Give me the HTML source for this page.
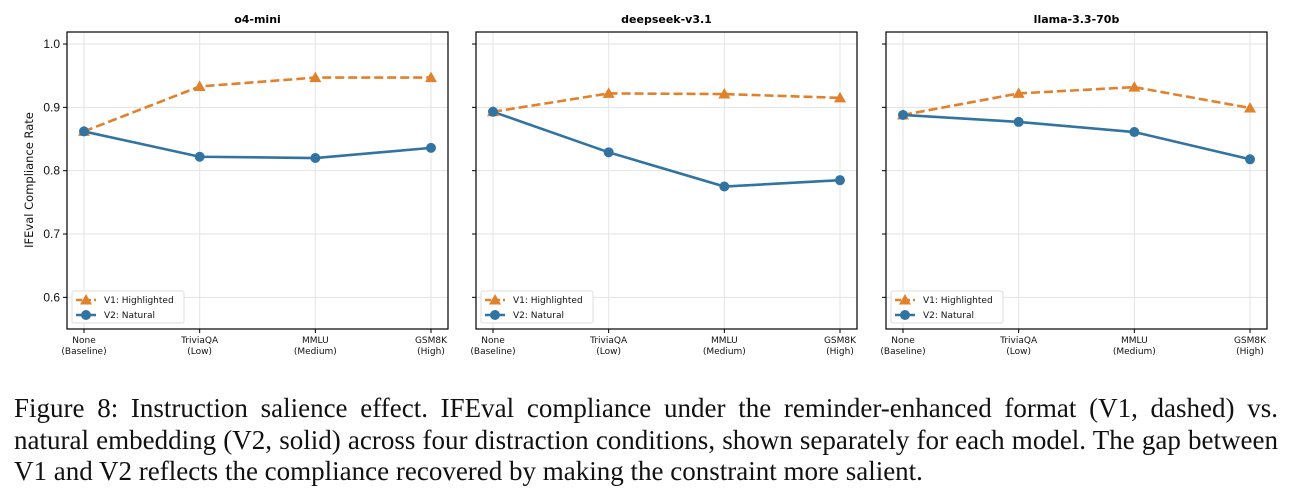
<!DOCTYPE html>
<html><head><meta charset="utf-8">
<style>
body{margin:0;background:#fff;width:1294px;height:497px;overflow:hidden;}
#chart{position:absolute;left:0;top:0;}
.cap{position:absolute;left:14px;width:1264px;font-family:"Liberation Serif",serif;font-size:27px;line-height:32px;color:#111;white-space:nowrap;}
.j{text-align:justify;text-align-last:justify;}
</style></head>
<body>
<svg id="chart" width="1294" height="380" xmlns="http://www.w3.org/2000/svg"></svg>
<div class="cap j" style="top:392px;">Figure 8: Instruction salience effect. IFEval compliance under the reminder-enhanced format (V1, dashed) vs.</div>
<div class="cap j" style="top:424px;">natural embedding (V2, solid) across four distraction conditions, shown separately for each model. The gap between</div>
<div class="cap" style="top:455px;">V1 and V2 reflects the compliance recovered by making the constraint more salient.</div>
<script>
const categories = [["None","(Baseline)"],["TriviaQA","(Low)"],["MMLU","(Medium)"],["GSM8K","(High)"]];
const yTicks = [0.6,0.7,0.8,0.9,1.0];
const yTickLabels = ["0.6","0.7","0.8","0.9","1.0"];
const models = ["o4-mini","deepseek-v3.1","llama-3.3-70b"];
const v1o4 = [0.862,0.933,0.947,0.947];
const v2o4 = [0.862,0.822,0.820,0.836];
const v1ds = [0.893,0.922,0.921,0.915];
const v2ds = [0.893,0.829,0.775,0.785];
const v1ll = [0.888,0.922,0.932,0.899];
const v2ll = [0.888,0.877,0.861,0.818];
const v1Series = [v1o4,v1ds,v1ll];
const v2Series = [v2o4,v2ds,v2ll];

const svg = document.getElementById('chart');
const NS = 'http://www.w3.org/2000/svg';
const YMIN = 0.55, YMAX = 1.019;
const top0 = 32, bot0 = 329;
const lefts = [67,476,886];
const W = 381;
const orange = '#e1812c', blue = '#3274a1';
function mk(tag, attrs, parent){const e=document.createElementNS(NS,tag);for(const k in attrs)e.setAttribute(k,attrs[k]);(parent||svg).appendChild(e);return e;}
function yScale(v){return bot0-(v-YMIN)/(YMAX-YMIN)*(bot0-top0);}
function xScale(i,L){const x0=L+17, x1=L+W-17;return x0+i*(x1-x0)/(categories.length-1);}

models.forEach((m,p)=>{
  const L=lefts[p];
  const g=mk('g',{});
  
  
  yTicks.forEach((t,k)=>{
    const y=yScale(t);
    const gl=mk('line',{x1:L,x2:L+W,y1:y,y2:y,stroke:'#e3e3e3','stroke-width':1},g);
    
    
    mk('line',{x1:L-4,x2:L,y1:y,y2:y,stroke:'#000','stroke-width':1},g);
    if(p===0){
      const tl=mk('text',{x:L-7,y:y+4,'text-anchor':'end','font-family':'Liberation Sans, DejaVu Sans, sans-serif','font-size':'12',fill:'#111'},g);
      tl.textContent=yTickLabels[k];
      
      
    }
  });
  categories.forEach((c,i)=>{
    const x=xScale(i,L);
    mk('line',{x1:x,x2:x,y1:top0,y2:bot0,stroke:'#e3e3e3','stroke-width':1},g);
    mk('line',{x1:x,x2:x,y1:bot0,y2:bot0+4,stroke:'#000','stroke-width':1},g);
    c.forEach((s,r)=>{
      const t=mk('text',{x:x,y:bot0+14+r*11,'text-anchor':'middle','font-family':'DejaVu Sans, Liberation Sans, sans-serif','font-size':'9',fill:'#111'},g);
      t.textContent=s;
      
      
    });
  });
  const v1=v1Series[p], v2=v2Series[p];
  const pts1=v1.map((v,i)=>xScale(i,L)+','+yScale(v)).join(' ');
  const pts2=v2.map((v,i)=>xScale(i,L)+','+yScale(v)).join(' ');
  const l1=mk('polyline',{points:pts1,fill:'none',stroke:orange,'stroke-width':2.6,'stroke-dasharray':'9,4'},g);
  
  
  const l2=mk('polyline',{points:pts2,fill:'none',stroke:blue,'stroke-width':2.6},g);
  
  
  v1.forEach((v,i)=>{
    const x=xScale(i,L),y=yScale(v);
    const tr=mk('polygon',{points:`${x},${y-6} ${x-6},${y+4.5} ${x+6},${y+4.5}`,fill:orange},g);
    
    
  });
  v2.forEach((v,i)=>{
    const c=mk('circle',{cx:xScale(i,L),cy:yScale(v),r:5,fill:blue},g);
    
    
  });
  mk('rect',{x:L,y:top0,width:W,height:bot0-top0,fill:'none',stroke:'#000','stroke-width':1.2},g);
  const tt=mk('text',{x:L+W/2,y:23,'text-anchor':'middle','font-family':'DejaVu Sans, Liberation Sans, sans-serif','font-size':'11','font-weight':'bold',fill:'#000'},g);
  tt.textContent=m;
  
  
  const lg=mk('g',{},g);
  
  
  mk('rect',{x:L+5,y:291,width:112,height:32,fill:'#fff',stroke:'#ddd','stroke-width':1,rx:2},lg);
  mk('line',{x1:L+9,x2:L+29,y1:300,y2:300,stroke:orange,'stroke-width':2.6,'stroke-dasharray':'6,3'},lg);
  mk('polygon',{points:`${L+19},${294} ${L+13},${304.5} ${L+25},${304.5}`,fill:orange},lg);
  mk('line',{x1:L+9,x2:L+29,y1:315,y2:315,stroke:blue,'stroke-width':2.6},lg);
  mk('circle',{cx:L+19,cy:315,r:5,fill:blue},lg);
  const e1=mk('text',{x:L+37,y:303,'font-family':'DejaVu Sans, Liberation Sans, sans-serif','font-size':'9',fill:'#111'},lg);
  e1.textContent='V1: Highlighted';
  
  
  const e2=mk('text',{x:L+37,y:318,'font-family':'DejaVu Sans, Liberation Sans, sans-serif','font-size':'9',fill:'#111'},lg);
  e2.textContent='V2: Natural';
  
  
});
const yt=mk('text',{x:0,y:0,'text-anchor':'middle','font-family':'DejaVu Sans, Liberation Sans, sans-serif','font-size':'11.5',fill:'#111',transform:'translate(33,180) rotate(-90)'});
yt.textContent='IFEval Compliance Rate';


</script>
</body></html>
